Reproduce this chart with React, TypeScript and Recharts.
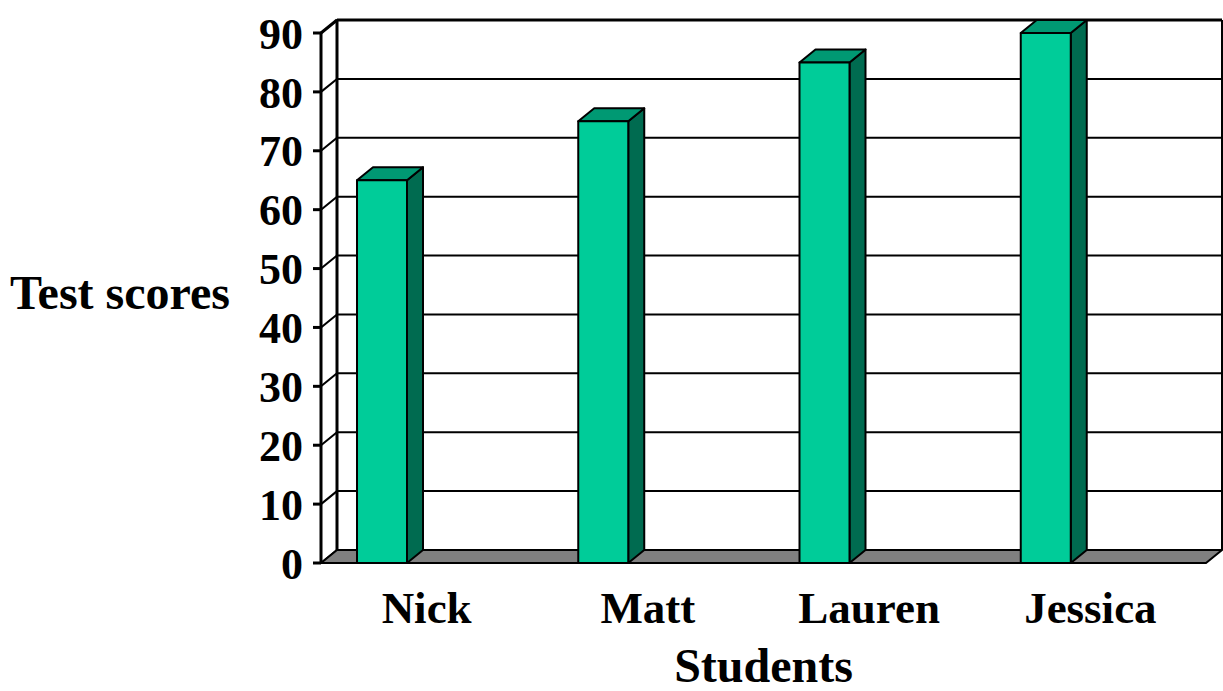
import React from "react";
import {
  BarChart,
  Bar,
  XAxis,
  YAxis,
  CartesianGrid,
  ReferenceArea,
} from "recharts";

const categories = ["Nick", "Matt", "Lauren", "Jessica"];
const scores = [65, 75, 85, 90];
const yTicks = [0, 10, 20, 30, 40, 50, 60, 70, 80, 90];
const edgeTicks = [0, 1, 2, 3, 4];

const data = categories.map((name, i) => ({ name, score: scores[i] }));

const FONT = '"Liberation Serif", "Times New Roman", serif';
const DX = 16;
const DY = -13;

// back wall edges + floor
const Walls = (props: any) => {
  const { x, y, width, height } = props;
  const bottom = y + height;
  const right = x + width;
  return (
    <g>
      <polygon
        points={`${x},${bottom} ${x + DX},${bottom + DY} ${right + DX},${bottom + DY} ${right},${bottom}`}
        fill="#808080"
        stroke="#000"
        strokeWidth={2}
      />
      <line x1={x + DX} y1={y + DY} x2={x + DX} y2={bottom + DY} stroke="#000" strokeWidth={3} />
      <line x1={right + DX} y1={y + DY} x2={right + DX} y2={bottom + DY} stroke="#000" strokeWidth={2} />
      <line x1={x} y1={y} x2={x + DX} y2={y + DY} stroke="#000" strokeWidth={3} />
      <line x1={x + DX} y1={y + DY} x2={right + DX} y2={y + DY} stroke="#000" strokeWidth={3} />
    </g>
  );
};

const GridLine = (p: any) => {
  const { x1, y1, x2 } = p;
  return (
    <polyline
      key={p.key}
      points={`${x1},${y1} ${x1 + DX},${y1 + DY} ${x2 + DX},${y1 + DY}`}
      fill="none"
      stroke="#000"
      strokeWidth={2}
    />
  );
};

const Bar3D = (p: any) => {
  const { x, y, width: w, height: h } = p;
  const bx = x - w;
  return (
    <g stroke="#000" strokeWidth={2} strokeLinejoin="round">
      <polygon
        points={`${bx + w},${y} ${bx + w + DX},${y + DY} ${bx + w + DX},${y + h + DY} ${bx + w},${y + h}`}
        fill="#006B50"
      />
      <polygon
        points={`${bx},${y} ${bx + DX},${y + DY} ${bx + w + DX},${y + DY} ${bx + w},${y}`}
        fill="#009973"
      />
      <rect x={bx} y={y} width={w} height={h} fill="#00CC99" />
    </g>
  );
};

const tickStyle = { fill: "#000", fontSize: 44, fontWeight: "bold", fontFamily: FONT };
const catStyle = { ...tickStyle, fontSize: 45, dx: -5 };
const titleStyle = { ...tickStyle, fontSize: 48 };

export default function App() {
  return (
    <div style={{ position: "absolute", left: 0, top: 0 }}>
      <BarChart
        width={1223}
        height={691}
        data={data}
        margin={{ top: 33, right: 17, bottom: 68, left: 0 }}
      >
        <XAxis
          xAxisId="edge"
          type="number"
          domain={[0, 4]}
          ticks={edgeTicks}
          tick={false}
          tickSize={10}
          height={0}
          axisLine={{ stroke: "#000", strokeWidth: 3 }}
          tickLine={{ stroke: "#000", strokeWidth: 2 }}
        />
        <XAxis
          xAxisId="cat"
          dataKey="name"
          height={60}
          axisLine={false}
          tickLine={false}
          tickSize={0}
          tickMargin={28}
          tick={catStyle}
          interval={0}
          label={{ value: "Students", position: "bottom", offset: 25, ...titleStyle }}
        />
        <YAxis
          domain={[0, 90]}
          ticks={yTicks}
          interval={0}
          width={321}
          tickSize={8}
          tickMargin={10}
          axisLine={{ stroke: "#000", strokeWidth: 3 }}
          tickLine={{ stroke: "#000", strokeWidth: 3 }}
          tick={tickStyle}
          label={{ value: "Test scores", position: "insideLeft", offset: 10, dy: -6, ...titleStyle }}
        />
        <CartesianGrid xAxisId="edge" vertical={false} horizontal={GridLine} />
        <ReferenceArea xAxisId="cat" y1={0} y2={90} shape={Walls} ifOverflow="visible" />
        <Bar
          xAxisId="cat"
          dataKey="score"
          barSize={50}
          shape={Bar3D}
          isAnimationActive={false}
        />
      </BarChart>
    </div>
  );
}
